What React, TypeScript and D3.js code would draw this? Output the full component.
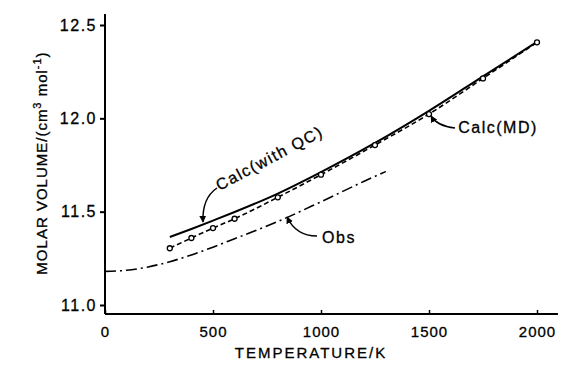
import React, { useEffect, useRef } from "react";
import * as d3 from "d3";

// values
const mdTemps = [300, 400, 500, 600, 800, 1000, 1250, 1500, 1750, 2000];
const mdVolumes = [11.304, 11.359, 11.412, 11.462, 11.577, 11.698, 11.857, 12.023, 12.214, 12.407];
const qcTemps = [300, 400, 500, 600, 800, 1000, 1250, 1500, 1750, 2000];
const qcVolumes = [11.364, 11.407, 11.452, 11.498, 11.597, 11.712, 11.868, 12.04, 12.225, 12.41];
const obsTemps = [0, 100, 200, 300, 400, 500, 600, 800, 1000, 1200, 1300];
const obsVolumes = [11.18, 11.186, 11.204, 11.232, 11.268, 11.31, 11.355, 11.447, 11.553, 11.663, 11.715];
const xTicks = [0, 500, 1000, 1500, 2000];
const yTicks = [11.0, 11.5, 12.0, 12.5];

const FONT = "'Liberation Sans', Arial, sans-serif";

const App = () => {
  const svgRef = useRef<SVGSVGElement>(null);

  useEffect(() => {
    const width = 588;
    const height = 371;
    const svg = d3.select(svgRef.current).attr("width", width).attr("height", height);
    svg.selectAll("*").remove();

    const x = d3.scaleLinear().domain([0, 2000]).range([105, 537]);
    const y = d3.scaleLinear().domain([11, 12.5]).range([305, 25]);

    svg.append("rect").attr("width", width).attr("height", height).attr("fill", "#fff");

    const defs = svg.append("defs");
    defs
      .append("marker")
      .attr("id", "head")
      .attr("viewBox", "0 0 10 10")
      .attr("refX", 9)
      .attr("refY", 5)
      .attr("markerWidth", 7)
      .attr("markerHeight", 7)
      .attr("markerUnits", "userSpaceOnUse")
      .attr("orient", "auto")
      .append("path")
      .attr("d", "M0,0 L10,5 L0,10 z")
      .attr("fill", "#000");

    // axes
    const xAxis = d3
      .axisBottom(x)
      .tickValues(xTicks)
      .tickSizeInner(-4)
      .tickSizeOuter(0)
      .tickPadding(12)
      .tickFormat(d3.format("d"));
    const gx = svg.append("g").attr("transform", `translate(0,${y(10.952)})`).call(xAxis);
    gx.select(".domain").remove();
    gx.append("line")
      .attr("x1", x(0))
      .attr("x2", x(2097))
      .attr("stroke", "#000")
      .attr("stroke-width", 2);
    gx.selectAll(".tick line").attr("stroke-width", 1.5);
    gx.selectAll(".tick text")
      .attr("font-family", FONT)
      .attr("font-size", 15)
      .attr("letter-spacing", 1)
      .attr("stroke", "#000")
      .attr("stroke-width", 0.3)
      .attr("fill", "#000");

    const yAxis = d3
      .axisLeft(y)
      .tickValues(yTicks)
      .tickSize(5)
      .tickPadding(3)
      .tickFormat(d3.format(".1f"));
    const gy = svg.append("g").attr("transform", `translate(${x(0)},0)`).call(yAxis);
    gy.select(".domain").remove();
    gy.append("line")
      .attr("y1", y(12.559))
      .attr("y2", y(10.952))
      .attr("stroke", "#000")
      .attr("stroke-width", 2);
    gy.selectAll(".tick line").attr("stroke-width", 2);
    gy.selectAll(".tick text")
      .attr("font-family", FONT)
      .attr("font-size", 16)
      .attr("letter-spacing", 1.5)
      .attr("stroke", "#000")
      .attr("stroke-width", 0.3)
      .attr("fill", "#000");

    // axis titles
    svg
      .append("text")
      .attr("x", 311)
      .attr("y", 358)
      .attr("text-anchor", "middle")
      .attr("font-family", FONT)
      .attr("font-size", 15)
      .attr("letter-spacing", 2)
      .attr("stroke", "#000")
      .attr("stroke-width", 0.3)
      .text("TEMPERATURE/K");

    const yl = svg
      .append("text")
      .attr("transform", "translate(47,163) rotate(-90)")
      .attr("text-anchor", "middle")
      .attr("font-family", FONT)
      .attr("font-size", 15)
      .attr("letter-spacing", 1)
      .attr("stroke", "#000")
      .attr("stroke-width", 0.3);
    yl.append("tspan").text("MOLAR VOLUME/(cm");
    yl.append("tspan").attr("dy", -6).attr("font-size", 11).text("3");
    yl.append("tspan").attr("dy", 6).text(" mol");
    yl.append("tspan").attr("dy", -6).attr("font-size", 11).text("-1");
    yl.append("tspan").attr("dy", 6).text(")");

    // curves
    const line = d3
      .line<[number, number]>()
      .x((d) => x(d[0]))
      .y((d) => y(d[1]))
      .curve(d3.curveMonotoneX);

    const qcData = qcTemps.map((t, i) => [t, qcVolumes[i]] as [number, number]);
    const mdData = mdTemps.map((t, i) => [t, mdVolumes[i]] as [number, number]);
    const obsData = obsTemps.map((t, i) => [t, obsVolumes[i]] as [number, number]);

    svg.append("path")
      .attr("d", line(obsData))
      .attr("fill", "none")
      .attr("stroke", "#000")
      .attr("stroke-width", 1.6)
      .attr("stroke-dasharray", "11 4 2 4");

    svg.append("path")
      .attr("d", line(mdData))
      .attr("fill", "none")
      .attr("stroke", "#000")
      .attr("stroke-width", 1.6)
      .attr("stroke-dasharray", "5 3");

    svg.append("path")
      .attr("d", line(qcData))
      .attr("fill", "none")
      .attr("stroke", "#000")
      .attr("stroke-width", 2);

    svg.selectAll("circle.md")
      .data(mdData)
      .enter()
      .append("circle")
      .attr("class", "md")
      .attr("cx", (d) => x(d[0]))
      .attr("cy", (d) => y(d[1]))
      .attr("r", 2.5)
      .attr("fill", "#fff")
      .attr("stroke", "#000")
      .attr("stroke-width", 1.3);

    // annotations
    const label = (tx: number, ty: number, txt: string, rot = 0) =>
      svg
        .append("text")
        .attr("transform", `translate(${tx},${ty}) rotate(${rot})`)
        .attr("text-anchor", "middle")
        .attr("font-family", FONT)
        .attr("font-size", 16)
        .attr("letter-spacing", 1.5)
        .attr("stroke", "#000")
        .attr("stroke-width", 0.3)
        .text(txt);

    label(272, 163, "Calc(with QC)", -28);
    label(339, 243, "Obs");
    label(498, 133, "Calc(MD)");

    const arrow = (d: string) =>
      svg.append("path")
        .attr("d", d)
        .attr("fill", "none")
        .attr("stroke", "#000")
        .attr("stroke-width", 1.5)
        .attr("marker-end", "url(#head)");

    arrow("M217,188 Q202,198 203,222");
    arrow("M317,236 Q296,236 287,217");
    arrow("M455,128 Q437,126 431,116");
  }, []);

  return (
    <div style={{ margin: -8 }}>
      <svg ref={svgRef}></svg>
    </div>
  );
};

export default App;
